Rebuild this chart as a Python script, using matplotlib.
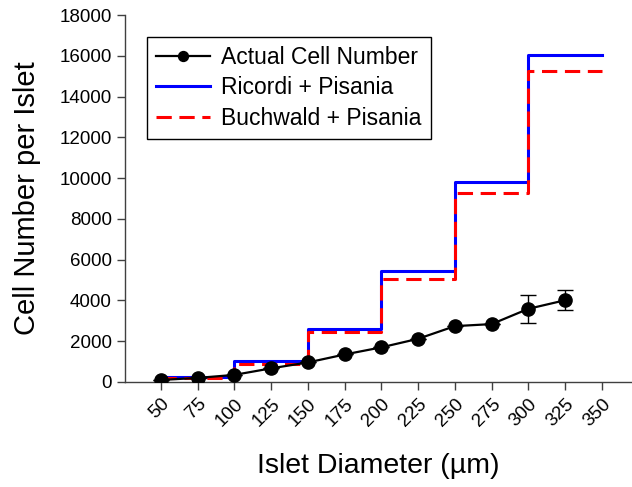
import matplotlib
matplotlib.use('Agg')
import matplotlib.pyplot as plt

plt.rcParams['font.family'] = ['Liberation Sans', 'DejaVu Sans']

# 資料
diameter = [50, 75, 100, 125, 150, 175, 200, 225, 250, 275, 300, 325]
actual = [100, 200, 350, 670, 960, 1350, 1700, 2120, 2740, 2840, 3590, 4010]
actual_err = [0, 0, 0, 0, 0, 0, 0, 0, 0, 0, 680, 500]

step_x = [50, 100, 150, 200, 250, 300, 350]
ricordi = [260, 1040, 2590, 5430, 9800, 16030, 16030]
buchwald = [210, 880, 2430, 5070, 9260, 15260, 15260]

xticks = [50, 75, 100, 125, 150, 175, 200, 225, 250, 275, 300, 325, 350]
yticks = [0, 2000, 4000, 6000, 8000, 10000, 12000, 14000, 16000, 18000]

fig = plt.figure(figsize=(6.32, 4.87), dpi=100)
ax = fig.add_axes([125/632, 1-382/487, (632-125)/632, (382-15)/487])

# 實際細胞數（線 + 誤差棒）
ax.plot(diameter, actual, color='black', lw=1.6, marker='o', ms=9.5,
        label='Actual Cell Number', zorder=4)
ax.errorbar(diameter, actual, yerr=actual_err, fmt='none', ecolor='black',
            capsize=6, elinewidth=1, capthick=1, zorder=4)
ax.step(step_x, ricordi, where='post', color='#0000ff', lw=2.2,
        label='Ricordi + Pisania', zorder=2)
ax.step(step_x, buchwald, where='post', color='#ff0000', lw=2.2,
        dashes=(5, 2.5), label='Buchwald + Pisania', zorder=3)

ax.set_xlim(25.5, 370.5)
ax.set_ylim(0, 18000)
ax.set_xticks(xticks)
ax.set_xticklabels([str(t) for t in xticks], rotation=45, ha='right',
                   rotation_mode='anchor', fontsize=13.5)
ax.set_yticks(yticks)
ax.set_yticklabels([str(t) for t in yticks], fontsize=13.5)
ax.tick_params(direction='out', length=6, width=1, color='#404040')

for s in ['top', 'right']:
    ax.spines[s].set_visible(False)
for s in ['left', 'bottom']:
    ax.spines[s].set_color('#404040')
    ax.spines[s].set_linewidth(1)

ax.set_xlabel('Islet Diameter (µm)', fontsize=20.5, labelpad=17)
ax.set_ylabel('Cell Number per Islet', fontsize=21, labelpad=13)

leg = ax.legend(loc='upper left', bbox_to_anchor=(147/632, 1-37/487),
                bbox_transform=fig.transFigure, borderaxespad=0,
                fontsize=16.5, fancybox=False, edgecolor='black',
                framealpha=1, handlelength=2.35, handletextpad=0.5,
                labelspacing=0.32, markerscale=0.75, borderpad=0.4)
leg.get_frame().set_linewidth(1)

fig.savefig('out.png', dpi=100)
